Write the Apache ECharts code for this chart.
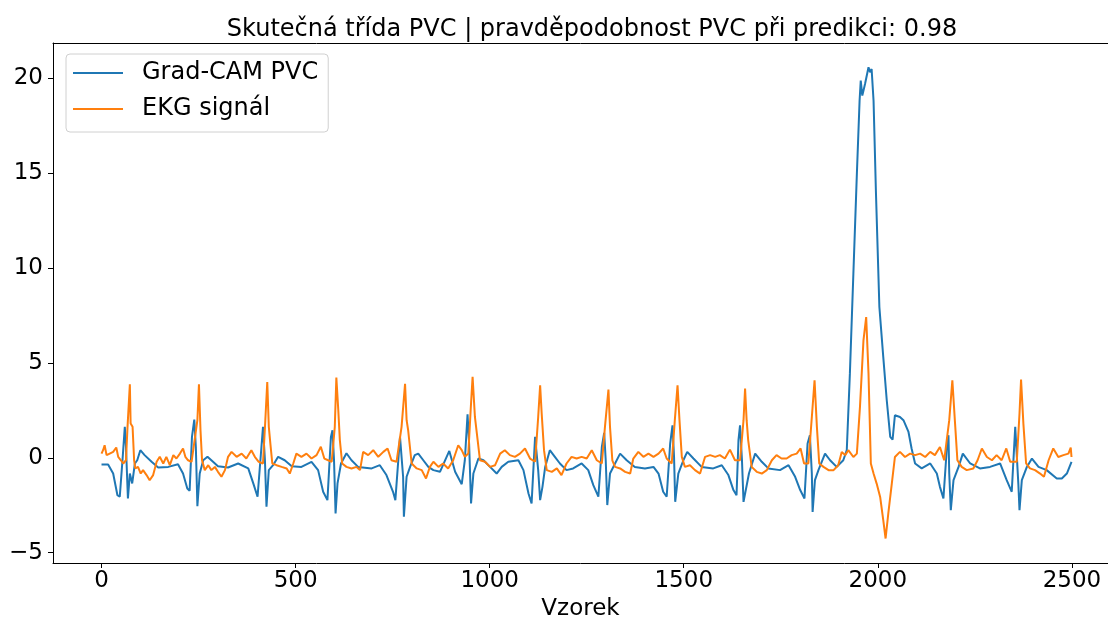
<!DOCTYPE html>
<html>
<head>
<meta charset="utf-8">
<script src="https://cdn.jsdelivr.net/npm/echarts@6/dist/echarts.min.js"></script>
<style>
html,body{margin:0;padding:0;background:#fff;}
#chart{width:1108px;height:619px;}
</style>
</head>
<body>
<div id="chart"></div>
<script>
const titleText = 'Skutečná třída PVC | pravděpodobnost PVC při predikci: 0.98';
const seriesNames = ['Grad-CAM PVC', 'EKG signál'];
const xTicks = [0, 500, 1000, 1500, 2000, 2500];
const yTicks = [-5, 0, 5, 10, 15, 20];

const gradcamX = [0,17,30,41,47,54,60,63,68,73,79,86,92,100,111,129,146,172,197,210,221,227,233,239,243,247,253,262,273,283,300,326,352,378,391,402,412,416,421,425,431,442,455,472,490,515,541,558,571,582,591,595,599,603,608,617,631,644,661,696,717,734,751,757,769,773,777,779,786,795,807,816,829,842,855,872,896,911,928,936,943,947,952,958,971,984,1001,1018,1031,1048,1074,1087,1100,1108,1117,1121,1125,1130,1136,1143,1155,1168,1181,1198,1215,1237,1254,1267,1280,1289,1295,1299,1303,1310,1323,1336,1353,1374,1400,1422,1435,1447,1456,1465,1471,1475,1478,1486,1499,1509,1525,1546,1576,1598,1615,1628,1636,1641,1645,1650,1654,1668,1684,1701,1718,1748,1770,1787,1800,1811,1819,1825,1830,1832,1838,1847,1864,1877,1894,1911,1920,1928,1937,1946,1953,1956,1960,1967,1976,1980,1984,1989,1995,2004,2014,2023,2032,2038,2044,2057,2066,2079,2087,2096,2113,2135,2152,2160,2169,2178,2182,2184,2188,2195,2208,2219,2238,2263,2289,2315,2332,2345,2354,2358,2362,2365,2371,2384,2397,2414,2435,2461,2474,2487,2499];
const gradcamY = [-0.35,-0.35,-0.83,-1.97,-2.05,-0.13,1.63,0.58,-2.14,-0.83,-1.35,-0.3,-0.13,0.4,0.14,-0.21,-0.51,-0.48,-0.34,-0.83,-1.62,-1.74,1.1,2.01,0.57,-2.55,-0.83,-0.13,0.05,-0.13,-0.44,-0.51,-0.3,-0.56,-1.35,-2.05,0.57,1.63,-0.13,-2.58,-0.65,-0.39,0.05,-0.13,-0.44,-0.48,-0.21,-0.65,-1.79,-2.23,1.1,1.45,-0.13,-2.93,-1.35,-0.3,0.24,-0.13,-0.48,-0.56,-0.39,-0.91,-1.79,-2.23,1.1,1.13,-1.0,-3.1,-1.0,-0.48,0.14,0.22,-0.13,-0.48,-0.65,-0.74,0.36,-0.74,-1.39,-0.13,2.29,0.75,-2.4,-0.83,-0.04,-0.13,-0.48,-0.83,-0.48,-0.21,-0.13,-0.65,-1.88,-2.4,1.1,1.19,-0.65,-2.23,-1.53,-0.48,0.4,0.05,-0.3,-0.65,-0.56,-0.3,-0.65,-1.44,-2.05,0.57,1.31,-0.13,-2.49,-0.83,-0.3,0.22,-0.13,-0.48,-0.56,-0.48,-0.83,-1.79,-2.05,0.75,1.71,0.05,-2.32,-0.83,-0.13,0.31,-0.04,-0.48,-0.56,-0.39,-0.91,-1.7,-1.97,0.93,1.71,-0.13,-2.32,-0.83,0.22,-0.21,-0.56,-0.65,-0.39,-1.0,-1.7,-2.14,0.75,1.19,-0.83,-2.85,-1.18,-0.65,0.22,-0.13,-0.48,-0.13,0.4,4.43,9.69,14.95,18.8,19.86,19.07,19.68,20.56,20.3,20.47,18.8,14.07,7.94,5.31,3.03,1.1,0.96,2.24,2.15,1.98,1.36,0.49,-0.3,-0.56,-0.3,-0.83,-1.53,-2.14,0.57,1.19,-0.83,-2.76,-1.18,-0.48,0.22,-0.3,-0.56,-0.48,-0.3,-1.18,-1.79,1.63,1.54,-1.36,-2.76,-1.18,-0.48,-0.04,-0.48,-0.65,-1.09,-1.09,-0.83,-0.21];

const ekgX = [0,4,8,13,21,30,38,43,50,56,63,67,73,75,80,84,87,94,101,107,116,124,133,142,150,159,167,176,185,193,202,210,216,223,232,247,251,255,259,266,275,283,292,300,309,318,326,335,348,361,373,386,395,405,416,422,427,431,435,440,451,464,477,485,494,502,515,528,541,554,565,574,584,593,601,605,610,614,620,631,644,657,666,674,687,700,713,726,737,747,760,773,782,786,790,799,812,825,836,846,855,868,880,893,906,919,928,936,945,951,956,962,969,975,988,1001,1014,1027,1039,1052,1065,1078,1091,1104,1117,1125,1130,1134,1140,1147,1160,1173,1185,1198,1211,1224,1237,1250,1263,1276,1289,1297,1306,1310,1316,1323,1336,1349,1362,1370,1383,1396,1409,1422,1435,1447,1456,1469,1477,1484,1489,1495,1503,1516,1529,1542,1555,1568,1581,1593,1606,1619,1632,1645,1654,1658,1662,1666,1675,1688,1701,1714,1727,1739,1752,1765,1778,1791,1801,1810,1821,1830,1837,1843,1849,1860,1873,1886,1898,1907,1916,1924,1937,1946,1954,1963,1970,1976,1982,1989,1997,2006,2014,2020,2027,2036,2044,2057,2070,2083,2096,2109,2122,2135,2147,2160,2171,2184,2192,2199,2205,2216,2229,2246,2257,2268,2281,2294,2306,2319,2331,2341,2358,2365,2369,2375,2382,2392,2405,2418,2428,2440,2452,2465,2478,2491,2497,2499];
const ekgY = [0.22,0.4,0.66,0.14,0.22,0.31,0.54,0.05,-0.13,-0.3,-0.13,1.63,3.87,1.8,1.63,-0.13,-0.56,-0.48,-0.83,-0.65,-0.91,-1.18,-0.91,-0.21,0.05,-0.3,0.05,-0.39,0.14,-0.04,0.22,0.49,0.05,-0.13,-0.21,1.98,3.87,1.45,-0.13,-0.65,-0.39,-0.65,-0.48,-0.74,-1.0,-0.65,0.05,0.31,0.05,0.22,-0.04,0.4,0.05,-0.21,-0.3,1.98,3.99,1.63,0.75,-0.3,-0.39,-0.48,-0.56,-0.83,-0.3,0.22,0.05,0.22,-0.04,0.14,0.58,-0.04,-0.13,-0.21,1.63,4.22,2.5,0.93,-0.3,-0.48,-0.56,-0.48,-0.65,0.31,0.14,0.4,0.05,0.31,0.49,-0.13,-0.21,1.63,3.9,1.98,1.45,-0.3,-0.56,-0.65,-1.09,-0.48,-0.21,-0.48,-0.3,-0.56,-0.13,0.66,0.4,0.05,0.22,2.5,4.26,2.15,0.93,-0.13,-0.21,-0.48,-0.39,0.22,0.4,0.14,0.05,0.22,0.49,-0.04,-0.21,2.15,3.82,2.33,0.4,-0.65,-0.74,-0.56,-0.91,-0.3,0.05,-0.04,0.05,-0.04,0.4,-0.13,-0.3,1.63,3.59,1.63,-0.13,-0.48,-0.56,-0.74,-0.83,-0.04,0.31,0.05,0.22,0.05,0.22,0.49,-0.04,-0.3,1.98,3.82,1.98,0.05,-0.48,-0.39,-0.65,-0.83,0.05,0.14,0.05,0.14,-0.04,0.43,-0.13,-0.13,1.98,3.64,1.98,0.93,-0.48,-0.74,-0.83,-0.65,-0.13,0.14,-0.04,-0.04,0.14,0.22,0.49,-0.3,-0.3,2.15,4.08,1.63,-0.3,-0.48,-0.65,-0.65,-0.39,0.31,0.14,0.4,0.04,0.22,2.68,6.18,7.41,4.43,-0.3,-0.83,-1.36,-2.06,-3.28,-4.25,-2.93,-1.36,0.04,0.31,0.04,0.22,0.14,0.22,0.04,0.31,0.14,0.57,-0.13,1.98,4.08,1.8,-0.13,-0.48,-0.65,-0.56,-0.13,0.49,0.04,-0.13,0.14,-0.13,0.49,-0.21,-0.21,2.33,4.12,1.8,-0.3,-0.56,-0.65,-0.83,-1.0,-0.13,0.49,0.04,0.14,0.22,0.54,0.04];

function pairs(xs, ys) { return xs.map((x, i) => [x, ys[i]]); }

const FONT = 'DejaVu Sans';
const X_MIN = -125, X_MAX = 2593, Y_MIN = -5.54, Y_MAX = 21.84;
const chart = echarts.init(document.getElementById('chart'), null, {renderer: 'canvas'});
chart.setOption({
  animation: false,
  backgroundColor: '#ffffff',
  title: {
    text: titleText,
    left: 587, top: 13, textAlign: 'center',
    textStyle: {fontFamily: FONT, fontSize: 24, fontWeight: 'normal', color: '#000'}
  },
  legend: {
    data: seriesNames,
    orient: 'vertical',
    left: 66, top: 54,
    padding: [5, 10, 9, 7],
    itemGap: 8,
    itemWidth: 50, itemHeight: 2,
    icon: 'rect',
    backgroundColor: '#fff',
    borderColor: '#d0d0d0', borderWidth: 1, borderRadius: 4,
    textStyle: {fontFamily: FONT, fontSize: 24, color: '#000', lineHeight: 28, padding: [0, 0, 0, 14]}
  },
  grid: {
    left: 53, top: 43, width: 1055, height: 520,
    show: false, containLabel: false, outerBoundsMode: 'none'
  },
  xAxis: [{
    type: 'value', min: X_MIN, max: X_MAX,
    name: 'Vzorek', nameLocation: 'middle', nameGap: 32,
    nameTextStyle: {fontFamily: FONT, fontSize: 23, color: '#000'},
    splitLine: {show: false},
    axisLine: {show: true, onZero: false, lineStyle: {color: '#000', width: 1}},
    axisTick: {show: true, length: 5, lineStyle: {color: '#000'}, customValues: xTicks},
    axisLabel: {fontFamily: FONT, fontSize: 23, color: '#000', margin: 7, customValues: xTicks,
      formatter: v => String(v)}
  }, {
    type: 'value', position: 'top', min: X_MIN, max: X_MAX,
    splitLine: {show: false},
    axisLine: {show: true, onZero: false, lineStyle: {color: '#000', width: 1}},
    axisTick: {show: false}, axisLabel: {show: false}
  }],
  yAxis: {
    type: 'value', min: Y_MIN, max: Y_MAX,
    splitLine: {show: false},
    axisLine: {show: true, onZero: false, lineStyle: {color: '#000', width: 1}},
    axisTick: {show: true, length: 5, lineStyle: {color: '#000'}, customValues: yTicks},
    axisLabel: {fontFamily: FONT, fontSize: 23, color: '#000', margin: 10, customValues: yTicks,
      formatter: v => (v < 0 ? '\u2212' + Math.abs(v) : String(v))}
  },
  series: [
    {name: seriesNames[0], type: 'line', xAxisIndex: 0, data: pairs(gradcamX, gradcamY), showSymbol: false, symbol: 'none',
     color: '#1f77b4', lineStyle: {width: 2, color: '#1f77b4'}, z: 2},
    {name: seriesNames[1], type: 'line', xAxisIndex: 0, data: pairs(ekgX, ekgY), showSymbol: false, symbol: 'none',
     color: '#ff7f0e', lineStyle: {width: 2, color: '#ff7f0e'}, z: 3}
  ]
});
</script>
</body>
</html>
